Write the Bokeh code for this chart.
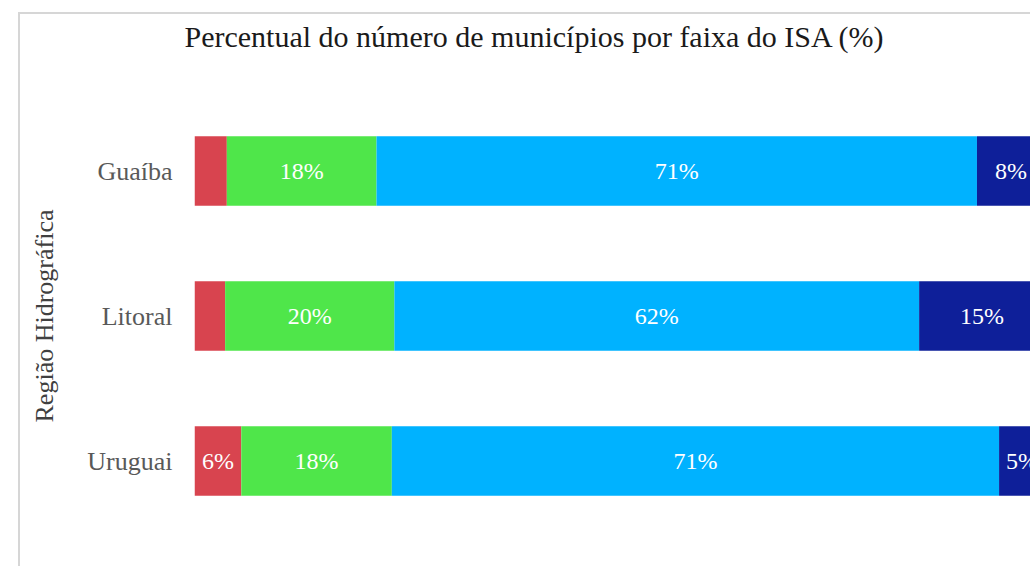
from bokeh.plotting import figure
from bokeh.models import ColumnDataSource, FactorRange, Range1d, Title
from bokeh.core.properties import value
from bokeh.embed import file_html
from bokeh.resources import INLINE

regions = ["Uruguai", "Litoral", "Guaíba"]
faixas = ["f1", "f2", "f3", "f4"]
f1 = [5.5, 3.6, 3.8]
f2 = [17.7, 19.9, 17.6]
f3 = [71.4, 61.7, 70.6]
f4 = [5.4, 14.8, 8.0]
colors = ["#D8444F", "#4FE64A", "#00B2FF", "#0E1F99"]
title_text = "Percentual do número de municípios por faixa do ISA (%)"
ylabel = "Região Hidrográfica"

src = ColumnDataSource(dict(region=regions, f1=f1, f2=f2, f3=f3, f4=f4))

p = figure(width=1012, height=554, y_range=FactorRange(factors=regions, range_padding=0),
           x_range=Range1d(0, 98.53), output_backend="svg", toolbar_location=None,
           min_border_left=174, min_border_right=0, min_border_top=84, min_border_bottom=35)
p.margin = (12, 0, 0, 18)
p.styles = {"border-top": "2px solid #d6d6d6", "border-left": "2px solid #d6d6d6"}
p.hbar_stack(faixas, y="region", height=0.48, color=colors, line_color=None, source=src)

# labels
lx, ly, lt = [], [], []
series = [f1, f2, f3, f4]
for i, r in enumerate(regions):
    cum = 0
    for s in series:
        v = s[i]
        if v >= 5:
            lx.append(cum + v / 2)
            ly.append(r)
            lt.append(f"{round(v)}%")
        cum += v
p.text(x=lx, y=ly, text=lt, text_align="center", text_baseline="middle",
       text_color="white", text_font=value("Liberation Serif"), text_font_size="24px")

p.xaxis.visible = False
p.xgrid.visible = False
p.ygrid.visible = False
p.outline_line_color = None
ax = p.yaxis[0]
ax.axis_line_color = None
ax.major_tick_line_color = None
ax.minor_tick_line_color = None
ax.major_label_text_font = "Liberation Serif"
ax.major_label_text_font_size = "26px"
ax.major_label_text_color = "#595959"
ax.major_label_standoff = 16
ax.axis_label = ylabel
ax.axis_label_text_font = "Liberation Serif"
ax.axis_label_text_font_size = "26px"
ax.axis_label_text_font_style = "normal"
ax.axis_label_text_color = "#404040"
ax.axis_label_standoff = 25

spacer = Title(text=" ", text_font_size="40px", standoff=0)
p.add_layout(spacer, "above")

p.title.text = title_text
p.title.text_font = "Liberation Serif"
p.title.text_font_size = "30px"
p.title.text_font_style = "normal"
p.title.text_color = "#1a1a1a"
p.title.align = "left"
p.title.offset = -10
p.title.standoff = 0

open("out.html", "w").write(file_html(p, INLINE))
